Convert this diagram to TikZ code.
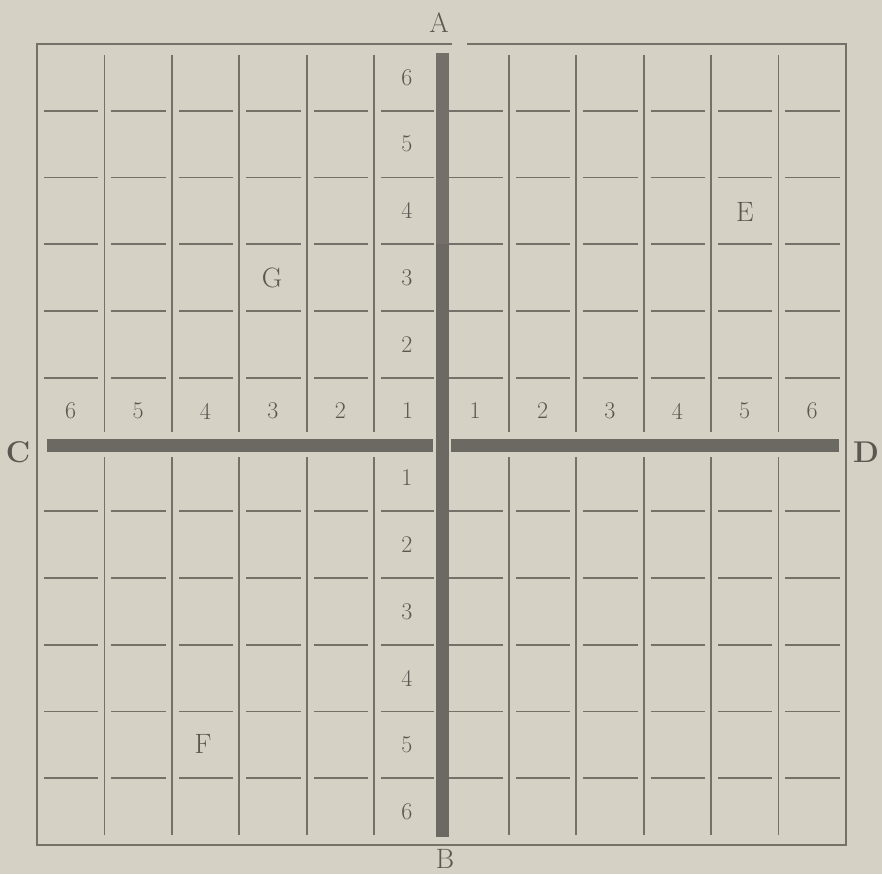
\documentclass[tikz,border=0pt]{standalone}
\definecolor{paper}{RGB}{214,209,197}
\definecolor{linec}{RGB}{118,113,104}
\definecolor{axisc}{RGB}{108,104,98}
\definecolor{axisup}{RGB}{116,111,104}
\definecolor{textc}{RGB}{92,88,81}
\begin{document}
\begin{tikzpicture}[x=1pt,y=-1pt,
  gridline/.style={draw=linec, line width=1.8pt},
  framepath/.style={draw=linec, line width=2.2pt, line join=miter},
  axisline/.style={draw=axisc, line width=13pt},
  axisupper/.style={draw=axisup, line width=13pt},
  num/.style={text=textc, font=\fontsize{24}{24}\selectfont, inner sep=0pt},
  letter/.style={text=textc, font=\fontsize{28}{28}\selectfont, inner sep=0pt},
  boldletter/.style={text=textc, font=\fontsize{30}{30}\selectfont\bfseries, inner sep=0pt}
]
\fill[paper] (0,0) rectangle (882,874);
\useasboundingbox (0,0) rectangle (882,874);

% frame with gap at top right of A
\draw[framepath] (452,44) -- (37,44) -- (37,845) -- (846,845) -- (846,44) -- (467,44);

% vertical thin lines
\foreach \i in {1,...,5,7,8,9,10,11}{
  \pgfmathsetmacro{\xx}{37+\i*67.4}
  \draw[gridline] (\xx,55) -- (\xx,432);
  \draw[gridline] (\xx,457) -- (\xx,835);
}

% horizontal short segments
\foreach \j in {1,...,5,7,8,9,10,11}{
  \pgfmathsetmacro{\yy}{44+\j*66.75}
  \foreach \i in {0,...,4,7,8,9,10,11}{
    \pgfmathsetmacro{\xa}{37+\i*67.4+7}
    \pgfmathsetmacro{\xb}{37+(\i+1)*67.4-6}
    \draw[gridline] (\xa,\yy) -- (\xb,\yy);
  }
  \pgfmathsetmacro{\xa}{37+5*67.4+7}
  \draw[gridline] (\xa,\yy) -- (434,\yy);
  \pgfmathsetmacro{\xb}{37+7*67.4-6}
  \draw[gridline] (449,\yy) -- (\xb,\yy);
}

% axes
\draw[axisline] (47,445) -- (433,445);
\draw[axisline] (451,445) -- (839,445);
\draw[axisupper] (442,53) -- (442,245);
\draw[axisline] (442,244) -- (442,837);

% column labels
\foreach \i in {0,...,5}{
  \pgfmathsetmacro{\xx}{37+(\i+0.5)*67.4}
  \pgfmathtruncatemacro{\lab}{6-\i}
  \node[num] (cl\lab) at (\xx,411) {\lab};
}
\foreach \i in {6,...,11}{
  \pgfmathsetmacro{\xx}{37+(\i+0.5)*67.4}
  \pgfmathtruncatemacro{\lab}{\i-5}
  \node[num] (cr\lab) at (\xx,411) {\lab};
}
% row labels
\foreach \j in {0,...,4}{
  \pgfmathsetmacro{\yy}{44+(\j+0.5)*66.75}
  \pgfmathtruncatemacro{\lab}{6-\j}
  \node[num] (ru\lab) at (407,\yy) {\lab};
}
\foreach \j in {6,...,11}{
  \pgfmathsetmacro{\yy}{44+(\j+0.5)*66.75}
  \pgfmathtruncatemacro{\lab}{\j-5}
  \node[num] (rd\lab) at (407,\yy) {\lab};
}

% letters
\node[letter] (A) at (439,23) {A};
\node[letter] (B) at (445,859) {B};
\node[boldletter] (C) at (18,452) {C};
\node[boldletter] (D) at (866,452) {D};
\node[letter] (E) at (745,212) {E};
\node[letter] (F) at (203,744) {F};
\node[letter] (G) at (272,278) {G};
\end{tikzpicture}
\end{document}
